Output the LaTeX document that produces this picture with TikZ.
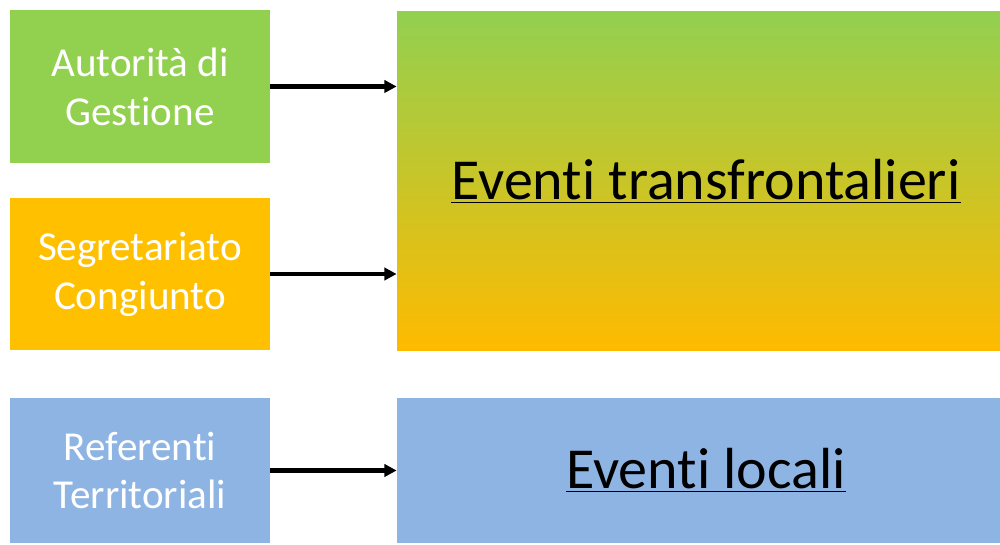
\documentclass[tikz,border=0pt]{standalone}
\usepackage{fontspec}
\setmainfont{Carlito}[Ligatures=NoCommon]
\usetikzlibrary{arrows.meta}
\definecolor{verdeAG}{HTML}{92D050}
\definecolor{arancioSC}{HTML}{FFC000}
\definecolor{bluRT}{HTML}{8EB4E3}
\newcommand{\sottolinea}[1]{\hspace*{0.3cm}\raisebox{-0.1cm}{\underline{#1}}}
\tikzset{
  piccolo/.style={minimum width=5.2cm,inner sep=0pt,align=center,text=white,
    font=\fontsize{23.4}{27.8}\selectfont},
  grande/.style={minimum width=12.06cm,inner sep=0pt,align=center,text=black,
    font=\fontsize{33}{39}\selectfont},
  freccia/.style={line width=2.3pt,-{Triangle[length=7pt,width=7pt]}}
}
\begin{document}
\begin{tikzpicture}
     		\useasboundingbox (0,0) rectangle (20,10.88);
     		% caselle a sinistra
     		\node[piccolo,fill=verdeAG,minimum height=3.06cm] (ag) at (2.8,9.15) {Autorità di\\Gestione};
     		\node[piccolo,fill=arancioSC,minimum height=3.04cm] (sc) at (2.8,5.4) {Segretariato\\Congiunto};
     		\node[piccolo,fill=bluRT,minimum height=2.9cm] (rt) at (2.8,1.47) {Referenti\\Territoriali};
     		% caselle a destra
     		\node[grande,top color=verdeAG,bottom color=arancioSC!97!red,minimum height=6.78cm] (et) at (13.97,7.25) {\sottolinea{Eventi transfrontalieri}};
     		\node[grande,fill=bluRT,minimum height=2.9cm] (el) at (13.97,1.47) {\sottolinea{Eventi locali}};
     		% frecce
     		\draw[freccia] (ag.east) -- (ag.east -| et.west);
     		\draw[freccia] (sc.east) -- (sc.east -| et.west);
     		\draw[freccia] (rt.east) -- (el.west);
\end{tikzpicture}
\end{document}
